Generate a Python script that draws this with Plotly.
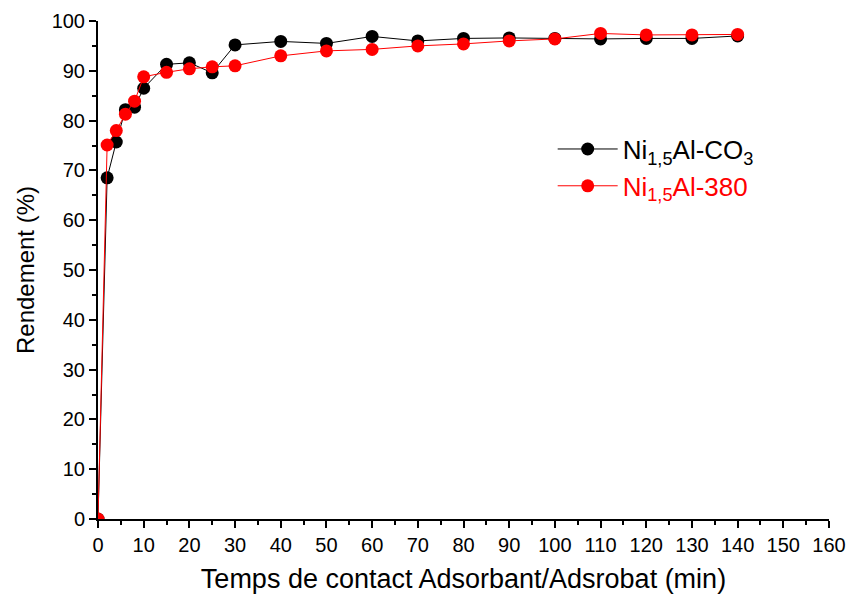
import plotly.graph_objects as go

time_min = [0, 2, 4, 6, 8, 10, 15, 20, 25, 30, 40, 50, 60, 70, 80, 90, 100, 110, 120, 130, 140]
rend_co3 = [0, 68.5, 75.7, 82.2, 82.7, 86.5, 91.3, 91.6, 89.6, 95.2, 95.9, 95.5, 96.9, 96.0, 96.5, 96.6, 96.5, 96.4, 96.5, 96.5, 97.0]
rend_380 = [0, 75.1, 78.0, 81.3, 83.9, 88.8, 89.7, 90.4, 90.8, 91.0, 93.0, 94.0, 94.3, 95.0, 95.4, 96.0, 96.4, 97.5, 97.2, 97.2, 97.3]

x_ticks = list(range(0, 161, 10))
y_ticks = list(range(0, 101, 10))

fig = go.Figure()
fig.add_trace(go.Scatter(
    x=time_min, y=rend_co3, mode="lines+markers",
    name="Ni<sub>1,5</sub>Al-CO<sub>3</sub>",
    line=dict(color="black", width=1),
    marker=dict(color="black", size=13, line=dict(width=0)),
))
fig.add_trace(go.Scatter(
    x=time_min, y=rend_380, mode="lines+markers",
    name="<span style='color:#ff0000'>Ni<sub>1,5</sub>Al-380</span>",
    line=dict(color="#ff0000", width=1),
    marker=dict(color="#ff0000", size=13, line=dict(width=0)),
))

regular = "Liberation Sans, Arial, sans-serif"

fig.update_layout(
    width=850, height=596,
    margin=dict(l=98, r=21, t=21, b=77),
    paper_bgcolor="white", plot_bgcolor="white",
    showlegend=True,
    legend=dict(
        x=0.622, y=0.79, xanchor="left", yanchor="top",
        font=dict(family=regular, size=26, color="black"),
        bgcolor="rgba(0,0,0,0)", itemwidth=60, tracegroupgap=0,
    ),
    xaxis=dict(
        range=[0, 160], tickvals=x_ticks, ticktext=[str(v) for v in x_ticks],
        showgrid=False, zeroline=False, showline=True, linecolor="black", linewidth=2,
        ticks="outside", ticklen=7, tickwidth=1.5, tickcolor="black",
        minor=dict(dtick=5, ticks="outside", ticklen=4, tickwidth=1.5, tickcolor="black", showgrid=False),
        tickfont=dict(family=regular, size=20, color="black"),
        title=dict(text="Temps de contact Adsorbant/Adsrobat (min)",
                   font=dict(family=regular, size=27, color="black"), standoff=14),
        automargin=False,
    ),
    yaxis=dict(
        range=[0, 100], tickvals=y_ticks, ticktext=[str(v) for v in y_ticks],
        showgrid=False, zeroline=False, showline=True, linecolor="black", linewidth=2,
        ticks="outside", ticklen=7, tickwidth=1.5, tickcolor="black",
        minor=dict(dtick=5, ticks="outside", ticklen=4, tickwidth=1.5, tickcolor="black", showgrid=False),
        tickfont=dict(family=regular, size=20, color="black"),
        title=dict(text="Rendement (%)", font=dict(family=regular, size=24, color="black"), standoff=10),
        automargin=False,
    ),
)

fig.write_html("out.html", config={"displayModeBar": False},
               post_script="document.body.style.margin='0';")
